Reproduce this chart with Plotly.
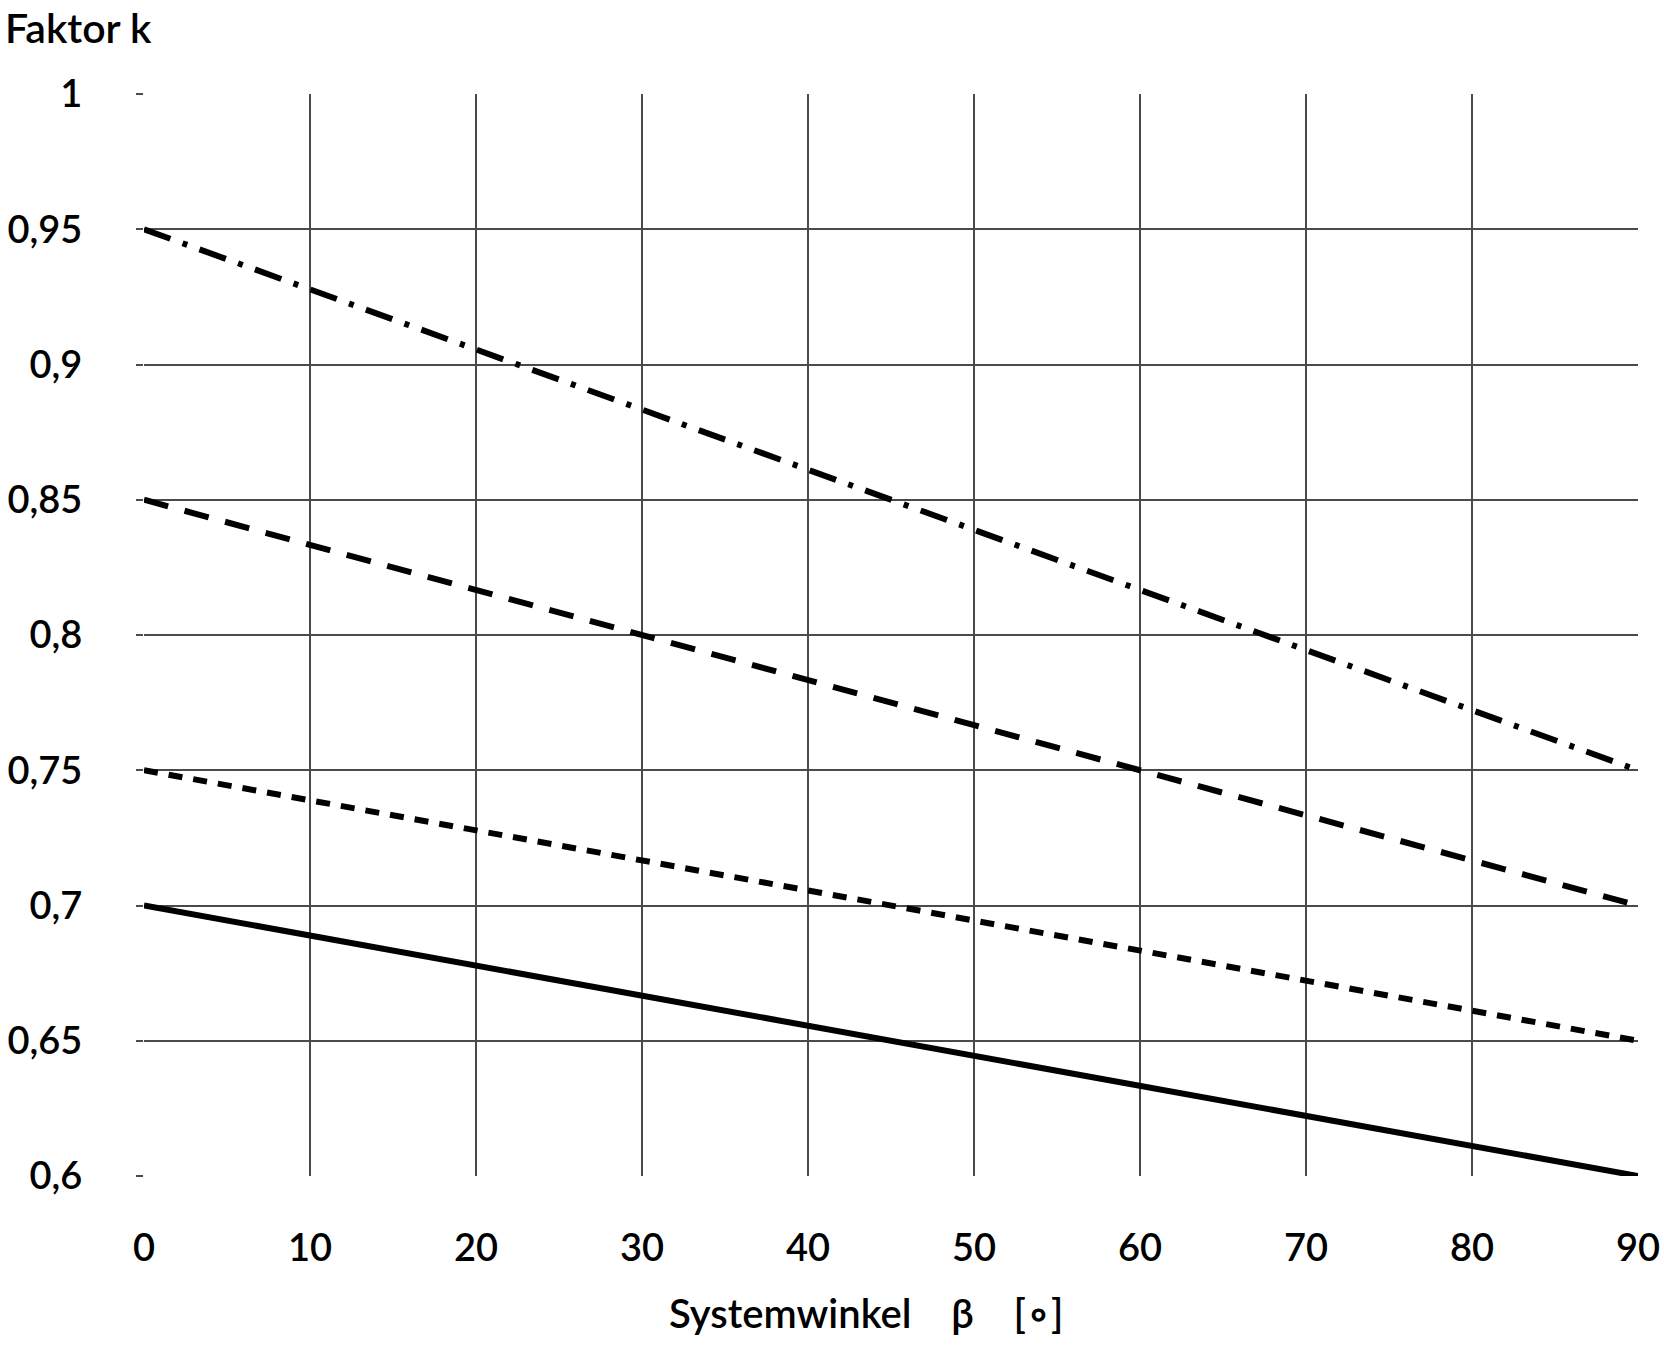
import plotly.graph_objects as go

# Systemwinkel beta [deg]
beta = [0, 90]

# Faktor k at beta = 0 and beta = 90
k_solid = [0.70, 0.60]
k_short_dash = [0.75, 0.65]
k_dash = [0.85, 0.70]
k_dash_dot = [0.95, 0.75]

x_ticks = [0, 10, 20, 30, 40, 50, 60, 70, 80, 90]
y_ticks = [0.6, 0.65, 0.7, 0.75, 0.8, 0.85, 0.9, 0.95, 1.0]
y_labels = ["0,6", "0,65", "0,7", "0,75", "0,8", "0,85", "0,9", "0,95", "1"]

FONT = "Lato"
W, H = 1664, 1352
L, R, T, B = 144, 26, 94, 176


def px_to_paper(xp, yp):
    pw = W - L - R
    ph = H - T - B
    return (xp - L) / pw, (H - B - yp) / ph


fig = go.Figure()
styles = [
    (k_solid, "solid"),
    (k_short_dash, "14px,11px"),
    (k_dash, "25px,17px"),
    (k_dash_dot, "28px,13px,5px,13px"),
]
for vals, dash in styles:
    fig.add_trace(go.Scatter(
        x=beta, y=vals, mode="lines",
        line=dict(color="black", width=6, dash=dash),
        showlegend=False, hoverinfo="skip",
    ))

fig.update_xaxes(
    range=[0, 90], tickvals=x_ticks, showgrid=True, gridcolor="#4a4a4a", gridwidth=1.5,
    zeroline=False, showline=False, ticks="", ticklabelstandoff=46, automargin=False,
    tickfont=dict(family=FONT, size=38, color="black", weight=600),
)
fig.update_yaxes(
    range=[0.6, 1.0], tickvals=y_ticks, ticktext=y_labels, showgrid=True,
    gridcolor="#4a4a4a", gridwidth=1.5, zeroline=False, showline=False,
    ticks="outside", ticklen=7, tickcolor="#4a4a4a", tickwidth=1.5,
    ticklabelstandoff=46, automargin=False,
    tickfont=dict(family=FONT, size=38, color="black", weight=600),
)

ax, ay = px_to_paper(3, 28)
bx, by = px_to_paper(866, 1313)
fig.add_annotation(
    text="Faktor k", xref="paper", yref="paper", x=ax, y=ay,
    xanchor="left", yanchor="middle", showarrow=False,
    font=dict(family=FONT, size=41, color="black", weight=600),
)
fig.add_annotation(
    text="Systemwinkel\u00a0\u00a0\u00a0\u00a0β\u00a0\u00a0\u00a0\u00a0[\u2218]", xref="paper", yref="paper",
    x=bx, y=by, xanchor="center", yanchor="middle", showarrow=False,
    font=dict(family=FONT, size=40, color="black", weight=600),
)

fig.update_layout(
    width=W, height=H,
    margin=dict(l=L, r=R, t=T, b=B),
    plot_bgcolor="white", paper_bgcolor="white",
)

# the page's default body margin would shift the figure by 8px
fig.write_html(
    "out.html",
    config={"displayModeBar": False},
    post_script="document.body.style.margin = '0';",
)
